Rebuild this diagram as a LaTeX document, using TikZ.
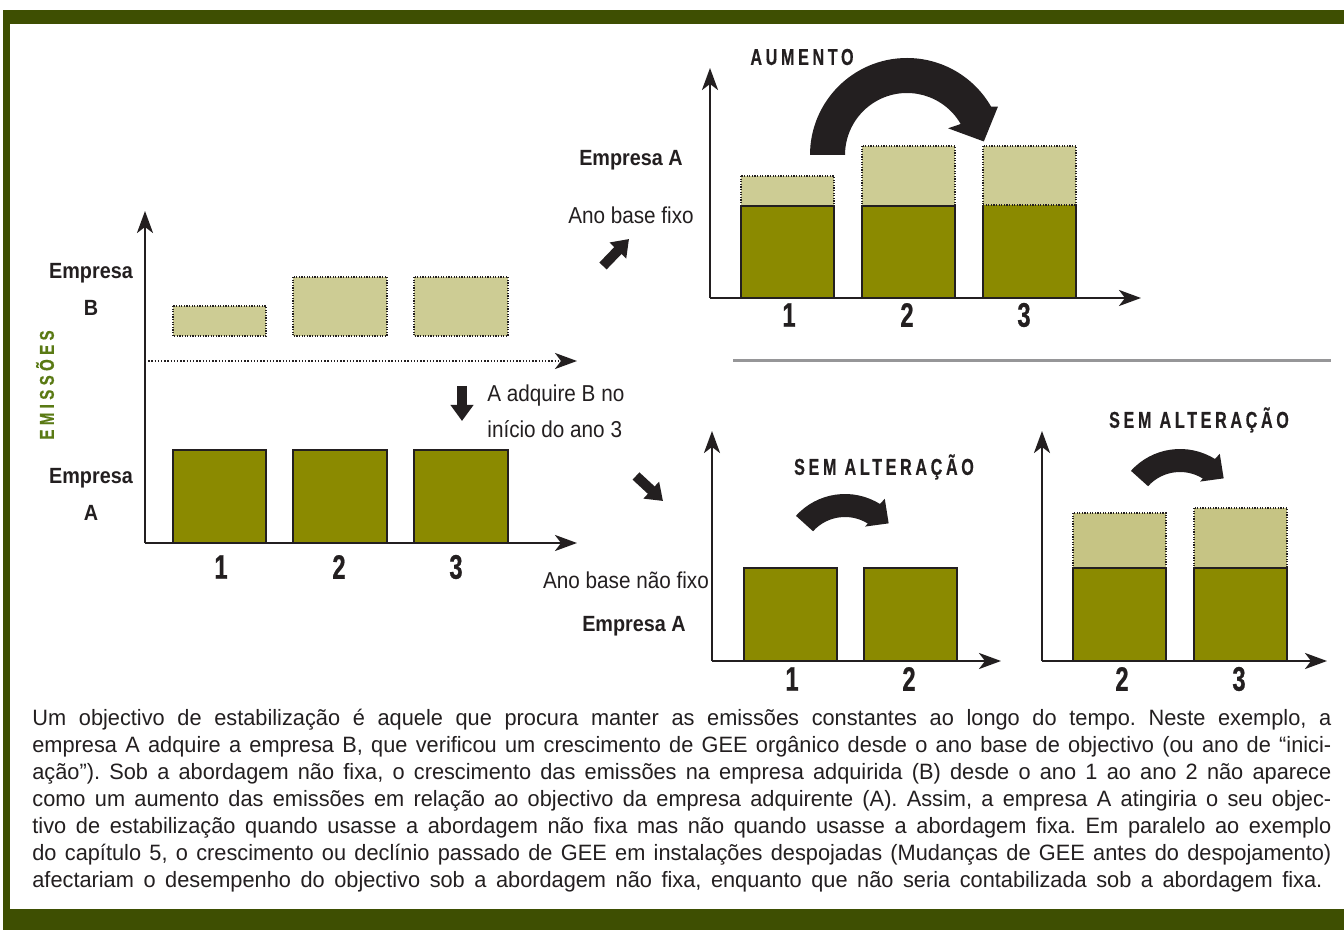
\documentclass[tikz,border=0pt]{standalone}
\usepackage{fontspec}
\usetikzlibrary{arrows.meta}
\newfontfamily\labfont{Liberation Sans}[FakeStretch=0.9]
\newfontfamily\parafont{Liberation Sans}[FakeStretch=0.98]
\newfontfamily\numfont{Liberation Sans}[FakeStretch=0.7,FakeBold=0.6]
\newfontfamily\capsfont{Liberation Sans}[FakeStretch=0.7,LetterSpace=16,FakeBold=0.5]
\newfontfamily\emfont{Liberation Sans}[FakeStretch=0.75,LetterSpace=22,FakeBold=0.5]
\definecolor{framec}{RGB}{62,79,2}
\definecolor{darkbar}{RGB}{139,138,0}
\definecolor{lightbar}{RGB}{205,204,148}
\definecolor{lightbarb}{RGB}{198,196,132}
\definecolor{ink}{RGB}{35,31,32}
\definecolor{emis}{RGB}{90,122,20}
\definecolor{rulec}{RGB}{150,150,152}
\newcommand{\parasetup}{\frenchspacing\spaceskip=0.278em plus 1em minus 0.06em\relax}
\newcommand{\pline}[2]{\hbox to #1{\parasetup #2}}
\begin{document}
\begin{tikzpicture}[x=0.5pt,y=-0.5pt,
  axis/.style={draw=ink,line width=1.3pt,-{Stealth[length=11pt,width=8pt,inset=3pt]}},
  dotaxis/.style={draw=ink,line width=1.1pt,dash pattern=on 0.7pt off 0.9pt,-{Stealth[length=11pt,width=8pt,inset=3pt,sep=0pt]}},
  dark/.style={fill=darkbar,draw=ink,line width=1pt},
  light/.style={fill=lightbar,draw=ink,line width=0.9pt,dash pattern=on 0.6pt off 0.7pt},
  blk/.style={draw=ink,line width=5pt,-{Triangle[length=8pt,width=11pt]}},
  lab/.style={font=\labfont\fontsize{11.5pt}{18pt}\selectfont,text=ink,inner sep=0pt},
  bl/.style={font=\labfont\bfseries\fontsize{11pt}{18.5pt}\selectfont,text=ink,inner sep=0pt,align=center},
  num/.style={font=\numfont\bfseries\fontsize{17pt}{18pt}\selectfont,text=ink,inner sep=0pt},
  caps/.style={font=\capsfont\bfseries\fontsize{11.5pt}{14pt}\selectfont,text=ink,inner sep=0pt},
  curv/.style={fill=ink}
]
\useasboundingbox (0,0) rectangle (1344,930);
\fill[white] (0,0) rectangle (1344,930);
% frame
\fill[framec] (3,10) rectangle (1344,24);
\fill[framec] (3,10) rectangle (10,930);
\fill[framec] (3,909) rectangle (1344,930);

% ---------- left chart ----------
\coordinate (L0) at (145,543);
\coordinate (Ly) at (145,211);
\coordinate (Lx) at (577,543);
\coordinate (Ld0) at (145,361);
\coordinate (Ld1) at (577,361);
\draw[light] (173,306) rectangle (266,336);
\draw[light] (293,277) rectangle (387,336);
\draw[light] (414,277) rectangle (508,336);
\draw[dark] (173,450) rectangle (266,543);
\draw[dark] (293,450) rectangle (387,543);
\draw[dark] (414,450) rectangle (508,543);
\draw[dotaxis] (Ld0) -- (Ld1);
\draw[axis] (L0) -- (Ly);
\draw[axis] (L0) -- (Lx);
\node[num] (l1) at (221,567) {1};
\node[num] (l2) at (339,567) {2};
\node[num] (l3) at (456,567) {3};
\node[bl] (eb) at (91,289) {Empresa\\B};
\node[bl] (ea) at (91,494) {Empresa\\A};
\node[rotate=90,font=\emfont\bfseries\fontsize{10pt}{12pt}\selectfont,text=emis,inner sep=0pt] (em) at (45,385) {EMISSÕES};
\coordinate (dA0) at (462,386);
\coordinate (dA1) at (462,421);
\draw[blk] (dA0) -- (dA1);
\node[lab,anchor=west,align=left] (acq) at (487,411) {A adquire B no\\início do ano 3};
\coordinate (ne0) at (603,266);
\coordinate (ne1) at (629,239);
\draw[blk] (ne0) -- (ne1);
\coordinate (se0) at (636,476);
\coordinate (se1) at (663,501);
\draw[blk] (se0) -- (se1);

% ---------- top right chart ----------
\node[bl] (tea) at (631,160) {Empresa A};
\node[lab] (fixo) at (631,215) {Ano base fixo};
\coordinate (T0) at (710,298);
\coordinate (Ty) at (710,68);
\coordinate (Tx) at (1141,298);
\draw[light] (741,176) rectangle (834,206);
\draw[light] (862,146) rectangle (955,206);
\draw[light] (983,146) rectangle (1076,206);
\draw[dark] (741,206) rectangle (834,298);
\draw[dark] (862,206) rectangle (955,298);
\fill[darkbar] (983,205) rectangle (1076,298);
\draw[ink,line width=1pt] (983,205) -- (983,298) -- (1076,298) -- (1076,205);
\draw[ink,line width=0.9pt,dash pattern=on 0.6pt off 0.7pt] (983,205) -- (1076,205);
\draw[axis] (T0) -- (Ty);
\draw[axis] (T0) -- (Tx);
\node[num] (t1) at (789,315) {1};
\node[num] (t2) at (907,315) {2};
\node[num] (t3) at (1024,315) {3};
\node[caps] (aum) at (802,57) {AUMENTO};
\begin{scope}[shift={(907,155)},yscale=-1]
  \fill[curv] (180:97) arc[start angle=180,end angle=30,radius=97] -- (28:103) -- (10:78) -- (33:49) -- (30:62) arc[start angle=30,end angle=180,radius=62] -- cycle;
\end{scope}

% separator
\coordinate (s0) at (733,361);
\coordinate (s1) at (1331,361);
\draw[rulec,line width=1.5pt] (s0) -- (s1);

% ---------- bottom middle chart ----------
\node[lab] (nfixo) at (626,580) {Ano base não fixo};
\node[bl] (mea) at (634,626) {Empresa A};
\coordinate (M0) at (712,661);
\coordinate (My) at (712,431);
\coordinate (Mx) at (1001,661);
\draw[dark] (744,568) rectangle (837,661);
\draw[dark] (864,568) rectangle (957,661);
\draw[axis] (M0) -- (My);
\draw[axis] (M0) -- (Mx);
\node[num] (m1) at (792,679) {1};
\node[num] (m2) at (909,679) {2};
\node[caps] (sa1) at (884,467) {SEM ALTERAÇÃO};
\begin{scope}[shift={(845,560)},yscale=-1]
  \fill[curv] (138:66) arc[start angle=138,end angle=58,radius=66] -- (57:73) -- (40:57) -- (59:39) -- (58:43) arc[start angle=58,end angle=138,radius=43] -- cycle;
\end{scope}

% ---------- bottom right chart ----------
\coordinate (R0) at (1042,661);
\coordinate (Ry) at (1042,431);
\coordinate (Rx) at (1327,661);
\draw[light,fill=lightbarb] (1073,513) rectangle (1166,568);
\draw[light,fill=lightbarb] (1194,508) rectangle (1287,568);
\draw[dark] (1073,568) rectangle (1166,661);
\draw[dark] (1194,568) rectangle (1287,661);
\draw[axis] (R0) -- (Ry);
\draw[axis] (R0) -- (Rx);
\node[num] (r2) at (1122,679) {2};
\node[num] (r3) at (1239,679) {3};
\node[caps] (sa2) at (1199,420) {SEM ALTERAÇÃO};
\begin{scope}[shift={(1180,515)},yscale=-1]
  \fill[curv] (138:66) arc[start angle=138,end angle=58,radius=66] -- (57:73) -- (40:57) -- (59:39) -- (58:43) arc[start angle=58,end angle=138,radius=43] -- cycle;
\end{scope}

% ---------- caption ----------
\node[anchor=base west,inner sep=0pt,text width=649.5pt,text=ink,
      font=\parafont\fontsize{11.1pt}{13.5pt}\selectfont] (txt) at (32,725) {%
\pline{649.5pt}{Um objectivo de estabilização é aquele que procura manter as emissões constantes ao longo do tempo. Neste exemplo, a}
\pline{649.5pt}{empresa A adquire a empresa B, que verificou um crescimento de GEE orgânico desde o ano base de objectivo (ou ano de “inici-}
\pline{649.5pt}{ação”). Sob a abordagem não fixa, o crescimento das emissões na empresa adquirida (B) desde o ano 1 ao ano 2 não aparece}
\pline{649.5pt}{como um aumento das emissões em relação ao objectivo da empresa adquirente (A). Assim, a empresa A atingiria o seu objec-}
\pline{649.5pt}{tivo de estabilização quando usasse a abordagem não fixa mas não quando usasse a abordagem fixa. Em paralelo ao exemplo}
\pline{649.5pt}{do capítulo 5, o crescimento ou declínio passado de GEE em instalações despojadas (Mudanças de GEE antes do despojamento)}
\pline{645pt}{afectariam o desempenho do objectivo sob a abordagem não fixa, enquanto que não seria contabilizada sob a abordagem fixa.}};
\end{tikzpicture}
\end{document}
